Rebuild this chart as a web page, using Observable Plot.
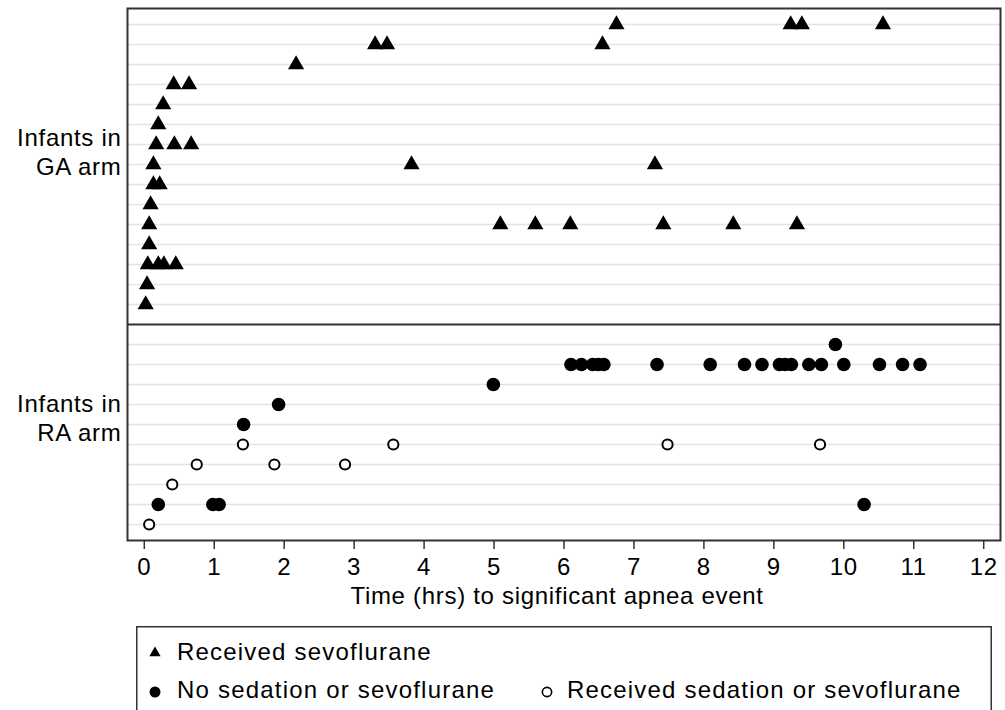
<!DOCTYPE html>
<html>
<head>
<meta charset="utf-8">
<script src="https://cdn.jsdelivr.net/npm/d3@7"></script>
<script src="https://cdn.jsdelivr.net/npm/@observablehq/plot@0.6"></script>
<style>
  body { margin: 0; background: #fff; font-family: "Liberation Sans", Arial, Helvetica, sans-serif; }
  #wrap { position: relative; width: 1005px; height: 710px; overflow: hidden; background: #fff; }
  #legend { position: absolute; left: 136px; top: 626px; }
</style>
</head>
<body>
<div id="wrap"><div id="chart"></div><div id="legend"></div></div>
<script>
// ---- Data ----
// GA arm: infant row (1 = bottom) and time (hrs) of each significant apnea event
const gaInfant = [1, 2, 3, 3, 3, 3, 4, 5, 5, 5, 5, 5, 5, 5, 6, 7, 7, 8, 8, 8, 9, 9, 9, 10, 11, 12, 12, 13, 14, 14, 14, 15, 15, 15, 15];
const gaHours  = [0.02, 0.04, 0.05, 0.20, 0.28, 0.45, 0.07, 0.07, 5.09, 5.59, 6.09, 7.42, 8.42, 9.33, 0.09, 0.13, 0.22, 0.13, 3.82, 7.30, 0.17, 0.43, 0.67, 0.20, 0.27, 0.42, 0.64, 2.17, 3.30, 3.47, 6.55, 6.75, 9.24, 9.40, 10.56];

// RA arm: infant row (1 = bottom), time (hrs), and whether sedation/sevoflurane was received
const raInfant = [1, 2, 2, 2, 2, 3, 4, 4, 4, 5, 5, 5, 5, 6, 7, 8, 9, 9, 9, 9, 9, 9, 9, 9, 9, 9, 9, 9, 9, 9, 9, 9, 9, 9, 10];
const raHours  = [0.07, 0.20, 0.98, 1.07, 10.29, 0.40, 0.75, 1.86, 2.87, 1.41, 3.56, 7.48, 9.66, 1.42, 1.92, 4.99, 6.10, 6.25, 6.41, 6.49, 6.57, 7.33, 8.09, 8.58, 8.83, 9.08, 9.16, 9.25, 9.50, 9.68, 10.00, 10.51, 10.84, 11.09, 9.88];
const raSedated = [true, false, false, false, false, true, true, true, true, true, true, true, true, false, false, false, false, false, false, false, false, false, false, false, false, false, false, false, false, false, false, false, false, false, false];

const gaCount = 15;
const raCount = 10;
const xTicks = [0, 1, 2, 3, 4, 5, 6, 7, 8, 9, 10, 11, 12];
const xTitle = "Time (hrs) to significant apnea event";
const armLabels = ["Infants in\nGA arm", "Infants in\nRA arm"];
const legendLabels = ["Received sevoflurane", "No sedation or sevoflurane", "Received sedation or sevoflurane"];

// ---- Layout on one stacked row axis: RA rows 1..10, divider, GA rows above ----
const gaOffset = raCount + 1;
const divider = raCount + 1;
const gaData = gaInfant.map((r, i) => ({pos: r + gaOffset, hours: gaHours[i]}));
const raData = raInfant.map((r, i) => ({pos: r, hours: raHours[i], sedated: raSedated[i]}));
const gridRows = [...d3.range(1, raCount + 1), ...d3.range(gaOffset + 1, gaOffset + gaCount + 1)];
const labelData = [
  {pos: gaOffset + 7.5, text: armLabels[0]},
  {pos: 5.18, text: armLabels[1]}
];

const font = '"Liberation Sans", Arial, Helvetica, sans-serif';

const chart = Plot.plot({
  width: 1005,
  height: 620,
  marginLeft: 127,
  marginRight: 5,
  marginTop: 8,
  marginBottom: 80,
  style: {fontFamily: font, fontSize: "24px", letterSpacing: "0.7px", background: "white", color: "black", overflow: "visible"},
  x: {domain: [-0.24, 12.24], label: null},
  y: {domain: [0.2, gaOffset + gaCount + 0.8], axis: null},
  marks: [
    Plot.ruleY(gridRows, {stroke: "#e4e4e4", strokeWidth: 1.5}),
    Plot.dot(gaData, {x: "hours", y: "pos", symbol: "triangle", r: 6, fill: "black"}),
    Plot.dot(raData.filter(d => !d.sedated), {x: "hours", y: "pos", symbol: "circle", r: 6.8, fill: "black"}),
    Plot.dot(raData.filter(d => d.sedated), {x: "hours", y: "pos", symbol: "circle", r: 5.1, fill: "white", stroke: "black", strokeWidth: 2}),
    Plot.ruleY([divider], {stroke: "#333", strokeWidth: 2}),
    Plot.frame({stroke: "#333", strokeWidth: 2}),
    Plot.axisX(xTicks, {tickSize: 9, tickPadding: 8, fontSize: 24, label: null, stroke: "#333", strokeWidth: 1.5, fill: "black"}),
    Plot.text([xTitle], {frameAnchor: "bottom", dy: 63, dx: -7, lineAnchor: "bottom", fontSize: 24, fill: "black", style: "letter-spacing:0.8px"}),
    Plot.text(labelData, {y: "pos", text: "text", frameAnchor: "left", dx: -6, textAnchor: "end", lineAnchor: "bottom", lineHeight: 29 / 24, fontSize: 24, fill: "black"})
  ]
});
document.getElementById("chart").appendChild(chart);

// ---- Legend (HTML-side SVG below the chart) ----
const lw = 856, lh = 100;
const leg = d3.select("#legend").append("svg")
  .attr("width", lw).attr("height", lh)
  .style("font-family", font).style("font-size", "24px").style("letter-spacing", "1.2px").style("overflow", "visible");
leg.append("rect").attr("x", 0.75).attr("y", 0.75).attr("width", lw - 1.5).attr("height", lh).attr("fill", "white").attr("stroke", "#333").attr("stroke-width", 1.5);
const items = [
  {sym: d3.symbolTriangle, size: 55, fill: "black", stroke: "none", sx: 19, sy: 27, tx: 41, ty: 34, label: legendLabels[0]},
  {sym: d3.symbolCircle, size: 95, fill: "black", stroke: "none", sx: 19, sy: 66, tx: 41, ty: 72, label: legendLabels[1]},
  {sym: d3.symbolCircle, size: 68, fill: "white", stroke: "black", sx: 411, sy: 66, tx: 431, ty: 72, label: legendLabels[2]}
];
for (const it of items) {
  leg.append("path").attr("d", d3.symbol(it.sym, it.size)()).attr("transform", `translate(${it.sx},${it.sy})`)
    .attr("fill", it.fill).attr("stroke", it.stroke).attr("stroke-width", 1.6);
  leg.append("text").attr("x", it.tx).attr("y", it.ty).text(it.label);
}
</script>
</body>
</html>
